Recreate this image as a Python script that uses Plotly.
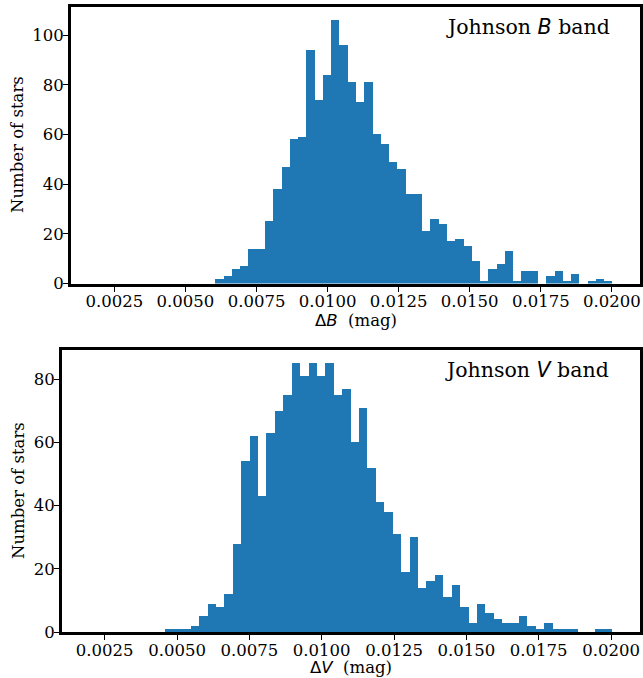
import numpy as np
import plotly.graph_objects as go

# Shared histogram binning for both photometric bands (62 bins)
bin_lo = 0.00198
bin_hi = 0.02002
n_bins = 62

# Star counts per bin, Johnson B band (first 14 bins empty)
counts_b = [0] * 14 + [
    2, 3, 6, 7, 14, 14, 25, 38, 47, 58, 59, 94, 74, 84, 106, 96, 81, 73, 81, 60,
    56, 49, 46, 36, 36, 21, 26, 24, 17, 18, 15, 9, 1, 6, 8, 13, 1, 5, 5, 0,
    3, 5, 1, 4, 0, 1, 2, 1,
]

# Star counts per bin, Johnson V band (first 9 bins empty)
counts_v = [0] * 9 + [
    1, 1, 1, 2, 5, 9, 8, 12, 28, 54, 62, 43, 63, 70, 75, 85, 81, 85, 81, 85,
    75, 77, 60, 71, 52, 41, 38, 31, 19, 30, 14, 16, 18, 11, 15, 8, 3, 9, 6, 4,
    3, 3, 5, 2, 1, 3, 1, 1, 1, 0, 0, 1, 1,
]

x_ticks = [0.0025, 0.0050, 0.0075, 0.0100, 0.0125, 0.0150, 0.0175, 0.0200]
x_tick_text = [f"{v:.4f}" for v in x_ticks]
y_ticks_b = [0, 20, 40, 60, 80, 100]
y_ticks_v = [0, 20, 40, 60, 80]

edges = np.linspace(bin_lo, bin_hi, n_bins + 1)
centers = 0.5 * (edges[:-1] + edges[1:])
widths = np.diff(edges)

W, H = 643, 678
BAR = "#1f77b4"
SERIF = "DejaVu Serif"
SANS = "DejaVu Sans"
FS = 16.5

fig = go.Figure()
fig.add_trace(go.Bar(x=centers, y=counts_b, width=widths, marker=dict(color=BAR, line=dict(width=0)),
                     xaxis="x", yaxis="y", showlegend=False, hoverinfo="x+y"))
fig.add_trace(go.Bar(x=centers, y=counts_v, width=widths, marker=dict(color=BAR, line=dict(width=0)),
                     xaxis="x2", yaxis="y2", showlegend=False, hoverinfo="x+y"))


def px_x(p):
    return p / W


def px_y(p):
    return 1 - p / H


axis_common = dict(
    showline=True, linewidth=3, linecolor="black", mirror=True,
    ticks="outside", ticklen=5, tickwidth=1.3, tickcolor="black",
    showgrid=False, zeroline=False, automargin=False,
    ticklabelstandoff=-4,
    tickfont=dict(family=SERIF, size=FS, color="black"),
)

top_max = max(counts_b) * 1.05
bot_max = max(counts_v) * 1.05

fig.update_layout(
    width=W, height=H,
    margin=dict(l=0, r=0, t=0, b=0, pad=0),
    paper_bgcolor="white", plot_bgcolor="white",
    bargap=0, barmode="overlay",
    xaxis=dict(domain=[px_x(71), px_x(640)], anchor="y", range=[0.000975, 0.020990],
               tickvals=x_ticks, ticktext=x_tick_text, **axis_common),
    yaxis=dict(domain=[px_y(283.5), px_y(7)], anchor="x", range=[0, top_max],
               tickvals=y_ticks_b, **axis_common),
    xaxis2=dict(domain=[px_x(62), px_x(640)], anchor="y2", range=[0.001025, 0.021000],
                tickvals=x_ticks, ticktext=x_tick_text, **axis_common),
    yaxis2=dict(domain=[px_y(632), px_y(350)], anchor="x2", range=[0, bot_max],
                tickvals=y_ticks_v, **axis_common),
)

sans_i = f'<span style="font-family:{SANS}"><i>%s</i></span>'
delta = f'<span style="font-family:{SANS}">\u0394</span>'

annotations = [
    dict(text="Johnson " + sans_i % "B" + " band", x=px_x(612), y=px_y(27),
         xanchor="right", yanchor="middle", font=dict(size=20.5)),
    dict(text="Johnson " + sans_i % "V" + " band", x=px_x(611), y=px_y(370),
         xanchor="right", yanchor="middle", font=dict(size=20.5)),
    dict(text=delta + sans_i % "B" + "\u00a0\u00a0(mag)", x=px_x(356), y=px_y(320),
         xanchor="center", yanchor="middle", font=dict(size=FS)),
    dict(text=delta + sans_i % "V" + "\u00a0\u00a0(mag)", x=px_x(351), y=px_y(667),
         xanchor="center", yanchor="middle", font=dict(size=FS)),
    dict(text="Number of stars", x=px_x(18), y=px_y(145), textangle=-90,
         xanchor="center", yanchor="middle", font=dict(size=FS)),
    dict(text="Number of stars", x=px_x(18), y=px_y(491), textangle=-90,
         xanchor="center", yanchor="middle", font=dict(size=FS)),
]
for a in annotations:
    a.update(xref="paper", yref="paper", showarrow=False)
    a["font"].update(family=SERIF, color="black")
fig.update_layout(annotations=annotations)

fig.write_html("out.html")
